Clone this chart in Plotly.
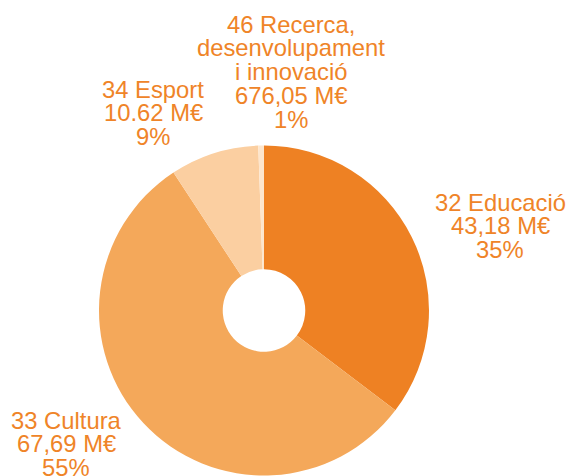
import plotly.graph_objects as go

# ---- data ----
codes = ["32", "33", "34", "46"]
names = ["Educació", "Cultura", "Esport", "Recerca, desenvolupament i innovació"]
values_meur = [43.18, 67.69, 10.62, 0.67605]
amount_labels = ["43,18 M€", "67,69 M€", "10.62 M€", "676,05 M€"]
pct_labels = ["35%", "55%", "9%", "1%"]
slice_colors = ["#EE8123", "#F4A85A", "#FBCFA1", "#FDE6CD"]

# label lines (name wrapped as in the original)
name_lines = [
    ["32 Educació"],
    ["33 Cultura"],
    ["34 Esport"],
    ["46 Recerca,", "desenvolupament", "i innovació"],
]

W, H = 569, 476
text_color = "#EF8428"
FS = 23.8
LINE = 23.8

# layout positions for label blocks: (x center px, first baseline px)
block_pos = [(500, 210), (66, 428), (153, 97), (291, 32)]

fig = go.Figure()
fig.add_trace(go.Pie(
    labels=[f"{c} {n}" for c, n in zip(codes, names)],
    values=values_meur,
    marker=dict(colors=slice_colors, line=dict(width=0)),
    hole=0.25,
    sort=False,
    direction="clockwise",
    rotation=0,
    textinfo="none",
    hoverinfo="label+value+percent",
    domain=dict(x=[99 / W, 429 / W], y=[0.5 / H, 1 - 145.5 / H]),
    showlegend=False,
))

annotations = []
for i in range(len(codes)):
    lines = name_lines[i] + [amount_labels[i], pct_labels[i]]
    cx, b0 = block_pos[i]
    for j, ln in enumerate(lines):
        baseline = b0 + j * LINE
        yc = baseline - 8
        annotations.append(dict(
            text=ln, x=cx / W, y=1 - yc / H, xref="paper", yref="paper",
            xanchor="center", yanchor="middle", showarrow=False,
            font=dict(family="Liberation Sans, Arial, sans-serif", size=FS, color=text_color),
        ))

fig.update_layout(
    width=W, height=H,
    margin=dict(l=0, r=0, t=0, b=0),
    paper_bgcolor="white", plot_bgcolor="white",
    annotations=annotations,
)

fig.write_html(
    "out.html",
    config={"displayModeBar": False},
    post_script="document.body.style.margin='0';document.body.style.overflow='hidden';",
)
